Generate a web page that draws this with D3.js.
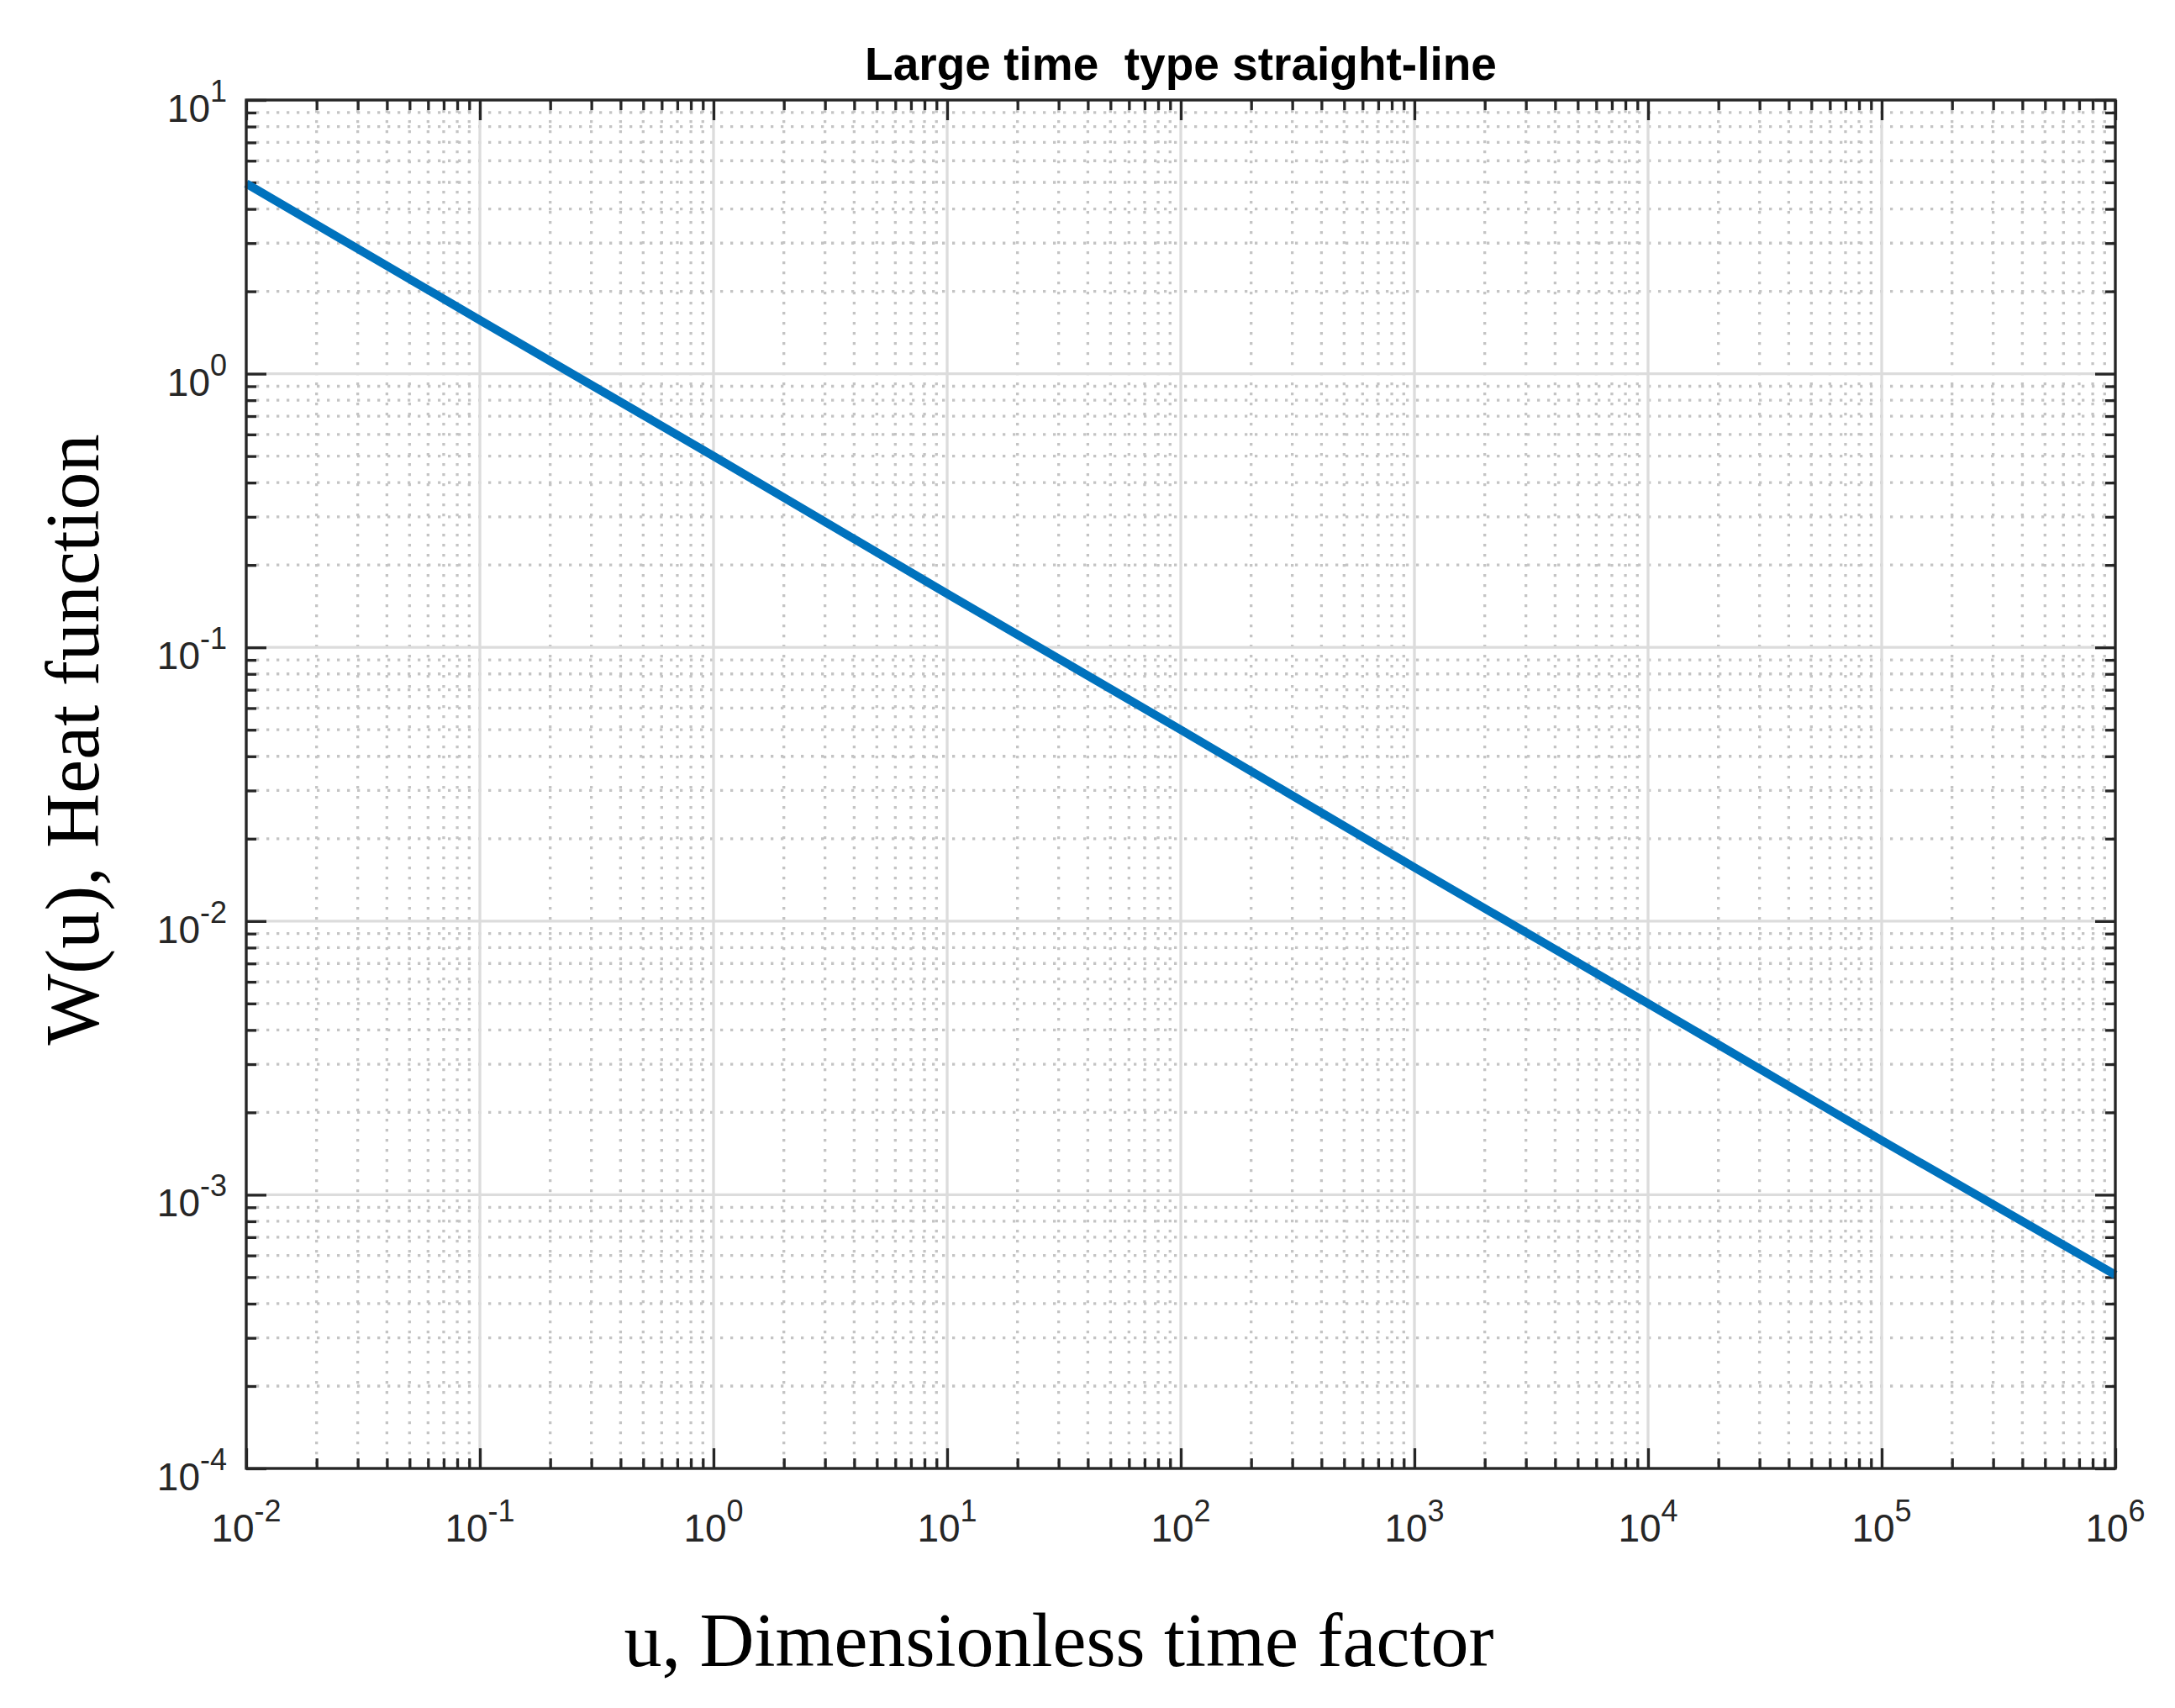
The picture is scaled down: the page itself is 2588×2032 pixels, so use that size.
<!DOCTYPE html>
<html>
<head>
<meta charset="utf-8">
<script src="https://cdn.jsdelivr.net/npm/d3@7"></script>
<style>
  body { margin: 0; background: #fff; }
  .tick-label { font-family: "Liberation Sans", Arial, sans-serif; fill: #262626; }
  .axis-title { font-family: "Liberation Serif", "Times New Roman", serif; fill: #000; }
  .chart-title { font-family: "Liberation Sans", Arial, sans-serif; font-weight: bold; fill: #000; }
</style>
</head>
<body>
<div id="chart"></div>
<script>
// Données
const uValues = [0.01, 0.1, 1, 10, 100, 1000, 10000, 100000, 1000000];
const wValues = [4.95, 1.57, 0.50, 0.157, 0.050, 0.0157, 0.0050, 0.00158, 0.00051];

const xDomain = [1e-2, 1e6];
const yDomain = [1e-4, 1e1];
const xExponents = [-2, -1, 0, 1, 2, 3, 4, 5, 6];
const yExponents = [-4, -3, -2, -1, 0, 1];

const titleText = "Large time  type straight-line";
const xLabelText = "u, Dimensionless time factor";
const yLabelText = "W(u), Heat function";

const width = 2588, height = 2032;
const margin = { left: 293, top: 119, right: 2588 - 2517, bottom: 2032 - 1747 };

const svg = d3.select("#chart").append("svg")
    .attr("width", width)
    .attr("height", height);

svg.append("rect").attr("width", width).attr("height", height).attr("fill", "#fff");

const x = d3.scaleLog().domain(xDomain).range([margin.left, width - margin.right]);
const y = d3.scaleLog().domain(yDomain).range([height - margin.bottom, margin.top]);

const xMajor = xExponents.map(e => Math.pow(10, e));
const yMajor = yExponents.map(e => Math.pow(10, e));

// graduations secondaires 2..9 dans chaque décade
function minorTicks(majors) {
    const out = [];
    majors.slice(0, -1).forEach(v => {
        for (let k = 2; k <= 9; k++) out.push(k * v);
    });
    return out;
}
const xMinor = minorTicks(xMajor);
const yMinor = minorTicks(yMajor);

const x0 = margin.left, x1 = width - margin.right;
const y0 = margin.top, y1 = height - margin.bottom;

// Grille secondaire (pointillés)
const grid = svg.append("g");
grid.selectAll(".minor-x").data(xMinor).enter().append("line")
    .attr("x1", d => x(d)).attr("x2", d => x(d))
    .attr("y1", y0).attr("y2", y1)
    .attr("stroke", "#c4c4c4").attr("stroke-width", 3.3)
    .attr("stroke-dasharray", "3.3 8.7");
grid.selectAll(".minor-y").data(yMinor).enter().append("line")
    .attr("y1", d => y(d)).attr("y2", d => y(d))
    .attr("x1", x0).attr("x2", x1)
    .attr("stroke", "#c4c4c4").attr("stroke-width", 3.3)
    .attr("stroke-dasharray", "3.3 8.7");

// Grille principale
grid.selectAll(".major-x").data(xMajor).enter().append("line")
    .attr("x1", d => x(d)).attr("x2", d => x(d))
    .attr("y1", y0).attr("y2", y1)
    .attr("stroke", "#dcdcdc").attr("stroke-width", 3.3);
grid.selectAll(".major-y").data(yMajor).enter().append("line")
    .attr("y1", d => y(d)).attr("y2", d => y(d))
    .attr("x1", x0).attr("x2", x1)
    .attr("stroke", "#dcdcdc").attr("stroke-width", 3.3);

// Axes avec graduations vers l'intérieur, sur les quatre côtés
function styleAxis(g) {
    g.select(".domain").remove();
    g.selectAll(".tick line").attr("stroke", "#262626").attr("stroke-width", 3.3);
    g.selectAll("text").remove();
}
const axes = [
    { make: d3.axisBottom, scale: x, at: `translate(0,${y1})` },
    { make: d3.axisTop, scale: x, at: `translate(0,${y0})` },
    { make: d3.axisLeft, scale: y, at: `translate(${x0},0)` },
    { make: d3.axisRight, scale: y, at: `translate(${x1},0)` }
];
axes.forEach(a => {
    const isX = a.scale === x;
    const majors = isX ? xMajor : yMajor;
    const minors = isX ? xMinor : yMinor;
    svg.append("g").attr("transform", a.at)
        .call(a.make(a.scale).tickValues(minors).tickSize(-12).tickFormat(""))
        .call(styleAxis);
    svg.append("g").attr("transform", a.at)
        .call(a.make(a.scale).tickValues(majors).tickSize(-24).tickFormat(""))
        .call(styleAxis);
});

// Courbe
const line = d3.line()
    .x((d, i) => x(uValues[i]))
    .y(d => y(d));

svg.append("path")
    .datum(wValues)
    .attr("d", line)
    .attr("fill", "none")
    .attr("stroke", "#0072BD")
    .attr("stroke-width", 10);

// Cadre
svg.append("rect")
    .attr("x", x0).attr("y", y0)
    .attr("width", x1 - x0).attr("height", y1 - y0)
    .attr("fill", "none")
    .attr("stroke", "#262626")
    .attr("stroke-width", 3.3);

// Étiquettes des graduations en puissances de 10
function powerLabel(sel, exp) {
    sel.append("tspan").text("10");
    sel.append("tspan").attr("dy", -24).attr("font-size", 36).text(exp);
}

svg.append("g").selectAll("text").data(xExponents).enter().append("text")
    .attr("class", "tick-label")
    .attr("x", d => x(Math.pow(10, d)))
    .attr("y", y1 + 87)
    .attr("text-anchor", "middle")
    .attr("font-size", 46)
    .each(function(d) { powerLabel(d3.select(this), d); });

svg.append("g").selectAll("text").data(yExponents).enter().append("text")
    .attr("class", "tick-label")
    .attr("x", x0 - 23)
    .attr("y", d => y(Math.pow(10, d)) + 26)
    .attr("text-anchor", "end")
    .attr("font-size", 46)
    .each(function(d) { powerLabel(d3.select(this), d); });

// Titres
svg.append("text")
    .attr("class", "chart-title")
    .attr("x", (x0 + x1) / 2)
    .attr("y", 95)
    .attr("text-anchor", "middle")
    .attr("font-size", 55)
    .attr("xml:space", "preserve")
    .style("white-space", "pre")
    .text(titleText);

svg.append("text")
    .attr("class", "axis-title")
    .attr("x", 1260)
    .attr("y", 1982)
    .attr("text-anchor", "middle")
    .attr("font-size", 90)
    .text(xLabelText);

svg.append("text")
    .attr("class", "axis-title")
    .attr("transform", "translate(117,880) rotate(-90)")
    .attr("text-anchor", "middle")
    .attr("font-size", 90)
    .text(yLabelText);
</script>
</body>
</html>
